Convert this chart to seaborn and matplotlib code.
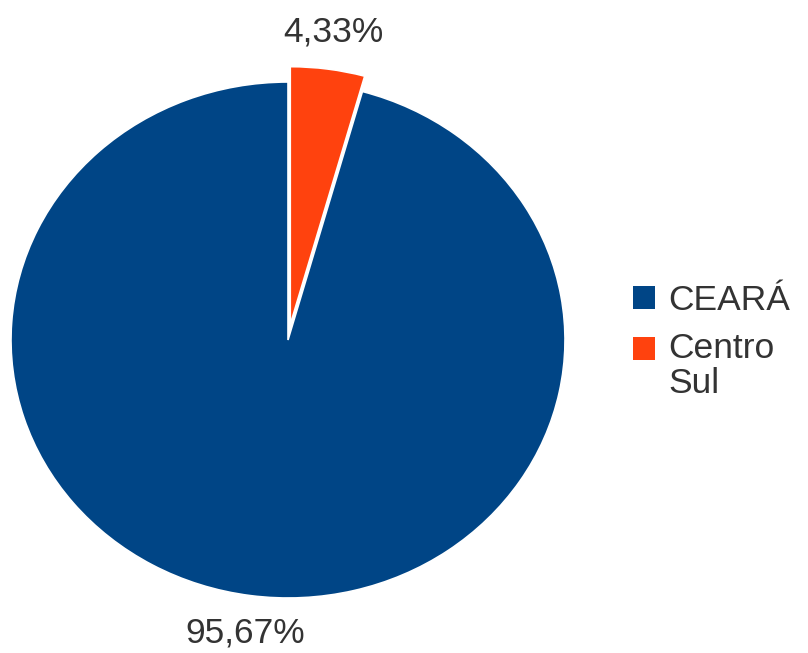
import matplotlib
matplotlib.use("Agg")
import matplotlib.pyplot as plt
import seaborn as sns
import numpy as np

# Data
categories = ["CEARÁ", "Centro Sul"]
legend_labels = ["CEARÁ", "Centro\nSul"]
shares = [95.67, 4.33]
colors = ["#004586", "#ff420e"]
explode = [0.0, 0.06]

sns.set_theme(style="white")
plt.rcParams["font.family"] = ["Liberation Sans", "DejaVu Sans"]
palette = sns.color_palette(colors)

W, H, DPI = 808, 653, 100
fig = plt.figure(figsize=(W / DPI, H / DPI), dpi=DPI)
fig.patch.set_facecolor("white")

# pie geometry in pixels (slightly flattened ellipse)
cx, cy, rx, ry = 288, 340, 277, 258
TEXT = "#333333"
FS = 25.5

ax = fig.add_axes([0, 0, 1, 1])
wedges, _ = ax.pie(
    shares,
    colors=palette,
    explode=explode,
    startangle=90,
    counterclock=True,
    radius=1.0,
    wedgeprops=dict(edgecolor="white", linewidth=1.2),
)
ax.set_aspect("auto")
ax.set_xlim(-cx / rx, (W - cx) / rx)
ax.set_ylim(-(H - cy) / ry, cy / ry)
ax.axis("off")

# percentage labels placed outside each wedge along its mid-angle
label_dist = 1.145
for w, v in zip(wedges, shares):
    theta = np.deg2rad((w.theta1 + w.theta2) / 2)
    x0, y0 = w.center
    ax.text(
        x0 + label_dist * np.cos(theta),
        y0 + label_dist * np.sin(theta),
        f"{v:.2f}".replace(".", ",") + "%",
        ha="center", va="center", fontsize=FS, color=TEXT,
    )

leg = fig.legend(
    wedges, legend_labels,
    loc="upper left",
    bbox_to_anchor=(633 / W, 1 - 284 / H),
    frameon=False,
    fontsize=FS,
    handlelength=0.62,
    handleheight=0.62,
    handletextpad=0.38,
    labelspacing=0.42,
    borderpad=0,
    borderaxespad=0,
)
for t in leg.get_texts():
    t.set_color(TEXT)
    t.set_linespacing(1.1)
for h in leg.legend_handles:
    h.set_edgecolor("none")

# keep each legend square level with the first line of its label
fig.canvas.draw()
renderer = fig.canvas.get_renderer()
texts = leg.get_texts()
single_h = texts[0].get_window_extent(renderer).height
for t, h in zip(texts, leg.legend_handles):
    n = t.get_text().count("\n") + 1
    if n > 1:
        extra_px = t.get_window_extent(renderer).height - single_h
        h.set_y(h.get_y() + 0.5 * extra_px * 72 / DPI)

fig.savefig("out.png", dpi=DPI, facecolor="white")
